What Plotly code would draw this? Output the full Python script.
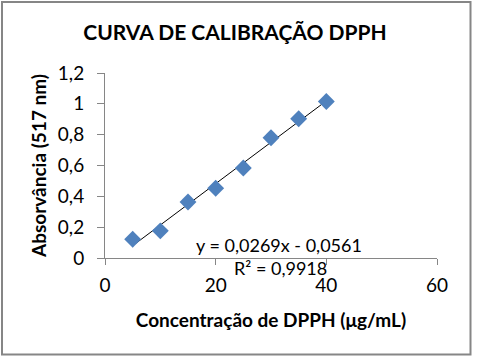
import numpy as np
import plotly.graph_objects as go

conc = [5, 10, 15, 20, 25, 30, 35, 40]
absorb = [0.122, 0.176, 0.363, 0.452, 0.584, 0.780, 0.903, 1.015]
x_ticks = [0, 20, 40, 60]
y_ticks = [0, 0.2, 0.4, 0.6, 0.8, 1.0, 1.2]
y_tick_text = ["0", "0,2", "0,4", "0,6", "0,8", "1", "1,2"]
eq_text = "y = 0,0269x - 0,0561"
r2_text = "R² = 0,9918"

slope, intercept = np.polyfit(conc, absorb, 1)
fit_x = [min(conc), max(conc)]
fit_y = [slope * v + intercept for v in fit_x]

font = "Lato, Carlito, Calibri, sans-serif"
L, R, T, B = 105, 47, 73, 104
PW, PH = 484 - L - R, 362 - T - B

def px(xp):
    return (xp - L) / PW

def py(yp):
    return (362 - B - yp) / PH

fig = go.Figure()
fig.add_trace(go.Scatter(x=fit_x, y=fit_y, mode="lines",
                         line=dict(color="black", width=1), hoverinfo="skip"))
fig.add_trace(go.Scatter(x=conc, y=absorb, mode="markers",
                         marker=dict(symbol="diamond", size=13, color="#4F81BD",
                                     line=dict(width=0))))

fig.add_annotation(x=px(279), y=py(245), xref="paper", yref="paper", text=eq_text,
                   xanchor="center", yanchor="middle",
                   showarrow=False, font=dict(family=font, size=18, color="black"))
fig.add_annotation(x=px(280.5), y=py(268), xref="paper", yref="paper", text=r2_text,
                   xanchor="center", yanchor="middle",
                   showarrow=False, font=dict(family=font, size=18, color="black"))

fig.add_shape(type="rect", xref="paper", yref="paper",
              x0=px(2), x1=px(470.5), y0=py(354.5), y1=py(2),
              line=dict(color="#868686", width=2))

fig.update_layout(
    width=484, height=362,
    margin=dict(l=L, r=R, t=T, b=B),
    plot_bgcolor="white", paper_bgcolor="white",
    showlegend=False,
    title=dict(text="<b>CURVA DE CALIBRAÇÃO DPPH</b>", x=235 / 484, xanchor="center",
               y=1 - 33 / 362, yanchor="middle",
               font=dict(family=font, size=21, color="black")),
    font=dict(family=font, size=19, color="black"),
    xaxis=dict(range=[0, 60], tickvals=x_ticks, showgrid=False, zeroline=False,
               showline=True, linecolor="#868686", linewidth=1, automargin=False,
               ticks="outside", ticklen=6, tickcolor="#868686", ticklabelstandoff=4,
               title=dict(text="<b>Concentração de DPPH (μg/mL)</b>",
                          font=dict(family=font, size=19), standoff=18),
               tickfont=dict(family=font, size=19)),
    yaxis=dict(range=[0, 1.2], tickvals=y_ticks, ticktext=y_tick_text,
               showgrid=False, zeroline=False, automargin=False,
               showline=True, linecolor="#868686", linewidth=1,
               ticks="outside", ticklen=7, tickcolor="#868686", ticklabelstandoff=9,
               title=dict(text="<b>Absorvância (517 nm)</b>",
                          font=dict(family=font, size=19), standoff=6),
               tickfont=dict(family=font, size=19)),
)

fig.write_html("out.html", config={"displayModeBar": False},
               post_script="document.body.style.margin='0';")
